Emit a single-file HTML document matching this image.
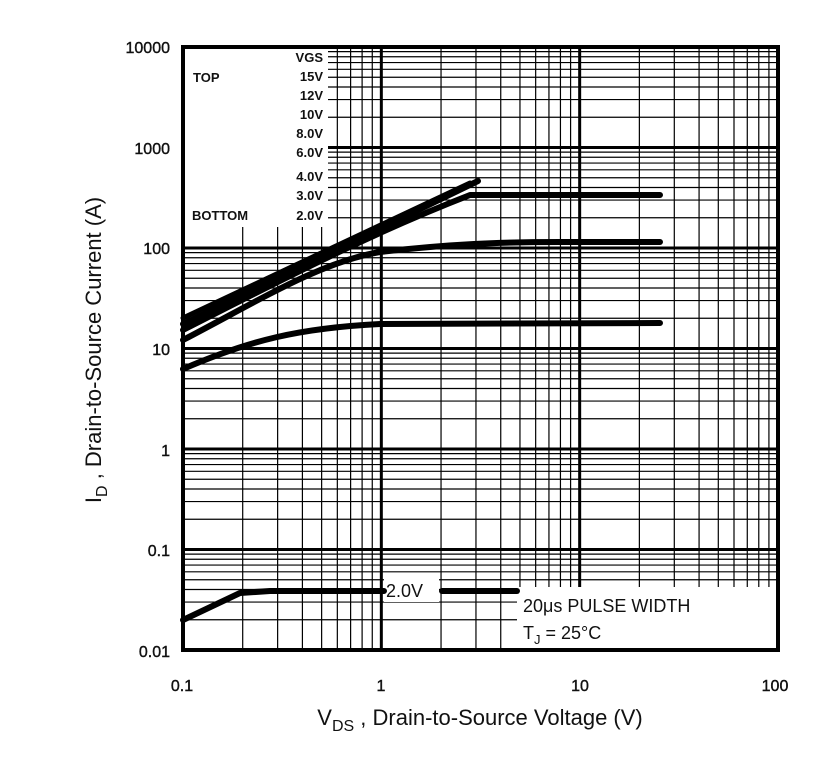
<!DOCTYPE html>
<html><head><meta charset="utf-8"><style>
body{margin:0;background:#fff;}
svg text{font-family:"Liberation Sans",sans-serif;fill:#111;}
</style></head><body>
<svg id="s" width="825" height="752" viewBox="0 0 825 752" xmlns="http://www.w3.org/2000/svg">
<g id="grid"></g>
<rect x="183" y="47" width="145" height="180" fill="#fff"/>
<rect x="517" y="587" width="261" height="63" fill="#fff"/>
<rect x="384" y="576" width="55" height="26" fill="#fff"/>
<g fill="none" stroke="#000" stroke-width="6" stroke-linejoin="round" stroke-linecap="round">
<path d="M183,620 L240,593 L270,591 L384,591"/>
<path d="M442,591 L517,591"/>
<path d="M183,369 C250,340 300,328 380,324 L660,323"/>
<path d="M183,340 C260,300 320,262 380,252 C450,244 500,242 560,242 L660,242"/>
<path d="M183,330 C300,270 380,230 470,195 L660,195"/>
<path d="M183,324 L478,181"/>
<path d="M183,318 L470,183" stroke-width="5"/>
</g>
<rect x="183" y="47" width="595" height="603" fill="none" stroke="#000" stroke-width="4"/>
<g font-size="13" font-weight="bold">
<text x="193" y="82">TOP</text>
<text x="192" y="220">BOTTOM</text>
<g text-anchor="end">
<text x="323" y="62">VGS</text>
<text x="323" y="81">15V</text>
<text x="323" y="100">12V</text>
<text x="323" y="119">10V</text>
<text x="323" y="138">8.0V</text>
<text x="323" y="157">6.0V</text>
<text x="323" y="181">4.0V</text>
<text x="323" y="200">3.0V</text>
<text x="323" y="220">2.0V</text>
</g></g>
<text x="386" y="597" font-size="18">2.0V</text>
<text x="523" y="612" font-size="18">20μs PULSE WIDTH</text>
<text x="523" y="639" font-size="18">T<tspan font-size="13" dy="5">J</tspan><tspan dy="-5"> = 25°C</tspan></text>
<g font-size="16" text-anchor="end" stroke="#111" stroke-width="0.4">
<text x="170" y="53">10000</text>
<text x="170" y="154">1000</text>
<text x="170" y="254">100</text>
<text x="170" y="355">10</text>
<text x="170" y="456">1</text>
<text x="170" y="556">0.1</text>
<text x="170" y="657">0.01</text>
</g>
<g font-size="16" text-anchor="middle" stroke="#111" stroke-width="0.4">
<text x="182" y="691">0.1</text>
<text x="381" y="691">1</text>
<text x="580" y="691">10</text>
<text x="775" y="691">100</text>
</g>
<text x="480" y="725" font-size="22" text-anchor="middle">V<tspan font-size="16" dy="6">DS</tspan><tspan dy="-6"> , Drain-to-Source Voltage (V)</tspan></text>
<text transform="translate(101,350) rotate(-90)" font-size="22" text-anchor="middle">I<tspan font-size="16" dy="6">D</tspan><tspan dy="-6"> , Drain-to-Source Current (A)</tspan></text>
</svg>
<script>
var g=document.getElementById('grid'),ns='http://www.w3.org/2000/svg';
function ln(x1,y1,x2,y2,w){var l=document.createElementNS(ns,'line');l.setAttribute('x1',x1);l.setAttribute('y1',y1);l.setAttribute('x2',x2);l.setAttribute('y2',y2);l.setAttribute('stroke','#000');l.setAttribute('stroke-width',w);g.appendChild(l);}
var L=183,R=778,T=47,B=650,dx=(R-L)/3,dy=(B-T)/6;
for(var d=0;d<3;d++)for(var k=1;k<10;k++){var x=L+dx*(d+Math.log10(k));ln(x,T,x,B,k==1?3:1.2);}
for(var d=0;d<6;d++)for(var k=1;k<10;k++){var y=B-dy*(d+Math.log10(k));ln(L,y,R,y,k==1?3:1.2);}
</script>
</body></html>
